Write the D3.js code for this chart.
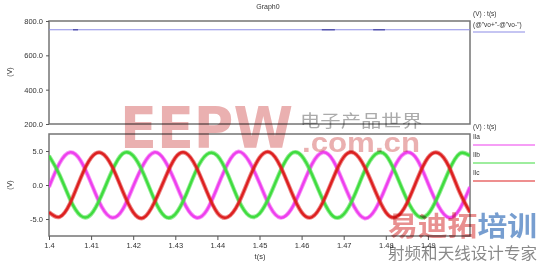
<!DOCTYPE html>
<html>
<head>
<meta charset="utf-8">
<script src="https://cdn.jsdelivr.net/npm/d3@7"></script>
<style>
  body { margin: 0; background: #fff; }
  svg { display: block; font-family: "Liberation Sans", Arial, sans-serif; }
</style>
</head>
<body>
<svg id="chart"></svg>
<script>
var width = 540,
    height = 264;

// sample times (s) read along the x axis
var times = [1.4000, 1.4025, 1.4050, 1.4075, 1.4100, 1.4125, 1.4150, 1.4175,
             1.4200, 1.4225, 1.4250, 1.4275, 1.4300, 1.4325, 1.4350, 1.4375,
             1.4400, 1.4425, 1.4450, 1.4475, 1.4500, 1.4525, 1.4550, 1.4575,
             1.4600, 1.4625, 1.4650, 1.4675, 1.4700, 1.4725, 1.4750, 1.4775,
             1.4800, 1.4825, 1.4850, 1.4875, 1.4900, 1.4925, 1.4950, 1.4975, 1.5000];

// phase currents (V)
var ila = [-0.3, 3.2, 4.8, 3.6, 0.3, -3.2, -4.8, -3.6,
           -0.2, 3.1, 4.8, 3.6, 0.4, -3.1, -4.8, -3.7,
           -0.3, 3.2, 4.9, 3.5, 0.3, -3.2, -4.8, -3.6,
           -0.4, 3.1, 4.8, 3.6, 0.2, -3.2, -4.9, -3.6,
           -0.3, 3.2, 4.8, 3.7, 0.3, -3.1, -4.8, -3.6, -0.3];
var ilb = [4.3, 1.5, -2.1, -4.5, -4.3, -1.5, 2.1, 4.6,
           4.3, 1.6, -2.1, -4.6, -4.3, -1.5, 2.2, 4.5,
           4.3, 1.5, -2.2, -4.5, -4.2, -1.5, 2.1, 4.6,
           4.3, 1.5, -2.1, -4.6, -4.3, -1.6, 2.1, 4.5,
           4.4, 1.5, -2.1, -4.5, -4.3, -1.5, 2.1, 4.6, 4.3];
var ilc = [-4.0, -4.7, -2.7, 1.0, 4.0, 4.7, 2.7, -0.9,
           -4.0, -4.8, -2.6, 0.9, 4.0, 4.7, 2.6, -1.0,
           -4.1, -4.7, -2.7, 0.9, 4.0, 4.8, 2.7, -0.9,
           -4.0, -4.7, -2.6, 1.0, 4.1, 4.7, 2.6, -0.9,
           -4.0, -4.7, -2.7, 0.9, 4.0, 4.7, 2.7, -1.0, -4.0];

// DC link voltage (upper graph)
var voTimes = [1.4, 1.45, 1.5];
var voValues = [749, 749, 749];
var voRipple = [[1.4057, 1.4069], [1.4648, 1.4679], [1.4770, 1.4798]];

var xTicks = [1.4, 1.41, 1.42, 1.43, 1.44, 1.45, 1.46, 1.47, 1.48, 1.49];
var topTicks = [200, 400, 600, 800];
var bottomTicks = [-5, 0, 5];

var seriesNames = ["Ila", "Ilb", "Ilc"];
var seriesColors = ["#ee3fee", "#3fdc3f", "#dd2020"];

var svg = d3.select("#chart")
    .attr("width", width)
    .attr("height", height);

var x = d3.scaleLinear().domain([1.4, 1.5]).range([49, 470]);
var yTop = d3.scaleLinear().domain([200, 800]).range([124, 21]);
var yBot = d3.scaleLinear().domain([-7.5, 7.5]).range([236, 134]);

svg.append("defs").append("clipPath").attr("id", "clipBot")
  .append("rect").attr("x", 49).attr("y", 134).attr("width", 421).attr("height", 102);

// title
svg.append("text").attr("x", 268).attr("y", 9)
  .attr("text-anchor", "middle").style("font-size", "7px").attr("fill", "#333")
  .text("Graph0");

// frames
[[yTop], [yBot]].forEach(function(p) {
  var r = p[0].range();
  svg.append("rect")
    .attr("x", 49).attr("y", r[1])
    .attr("width", 421).attr("height", r[0] - r[1])
    .attr("fill", "none").attr("stroke", "#747474").attr("stroke-width", 1.5);
});

// y axes
function styleAxis(g) {
  g.select(".domain").remove();
  g.selectAll("line").attr("stroke", "#555");
  g.selectAll("text").style("font-size", "7.5px").attr("fill", "#333")
    .style("font-family", "'Liberation Sans', Arial, sans-serif");
}
svg.append("g").attr("transform", "translate(49,0)")
  .call(d3.axisLeft(yTop).tickValues(topTicks).tickSize(3).tickPadding(3)
    .tickFormat(function(d) { return d.toFixed(1); }))
  .call(styleAxis);
svg.append("g").attr("transform", "translate(49,0)")
  .call(d3.axisLeft(yBot).tickValues(bottomTicks).tickSize(3).tickPadding(3)
    .tickFormat(function(d) { return d.toFixed(1); }))
  .call(styleAxis);
svg.append("g").attr("transform", "translate(0,236)")
  .call(d3.axisBottom(x).tickValues(xTicks).tickSize(4).tickPadding(3)
    .tickFormat(function(d) { return String(+d.toFixed(2)); }))
  .call(styleAxis);

// axis titles
[[72], [185]].forEach(function(p) {
  svg.append("text")
    .attr("transform", "translate(12," + p[0] + ") rotate(-90)")
    .attr("text-anchor", "middle").style("font-size", "7px").attr("fill", "#333")
    .text("(V)");
});
svg.append("text").attr("x", 260).attr("y", 259)
  .attr("text-anchor", "middle").style("font-size", "7.5px").attr("fill", "#333")
  .text("t(s)");

// upper trace
var voLine = d3.line().x(function(d) { return x(d[0]); }).y(function(d) { return yTop(d[1]); });
svg.append("path")
  .attr("d", voLine(d3.zip(voTimes, voValues)))
  .attr("fill", "none").attr("stroke", "#8c8ce6").attr("stroke-width", 1.2);
svg.selectAll(".ripple")
  .data(voRipple)
  .join("line")
  .attr("x1", function(d) { return x(d[0]); })
  .attr("x2", function(d) { return x(d[1]); })
  .attr("y1", yTop(749)).attr("y2", yTop(749))
  .attr("stroke", "#4a4aa6").attr("stroke-width", 1.3);

// lower traces
var wave = d3.line()
  .x(function(d) { return x(d[0]); })
  .y(function(d) { return yBot(d[1]); })
  .curve(d3.curveNatural);
var series = [ila, ilb, ilc];
var gw = svg.append("g").attr("clip-path", "url(#clipBot)");
series.forEach(function(vals, i) {
  var pts = d3.zip(times, vals);
  gw.append("path").attr("d", wave(pts))
    .attr("fill", "none").attr("stroke", seriesColors[i])
    .attr("stroke-width", 4.2).attr("stroke-opacity", 0.55);
  gw.append("path").attr("d", wave(pts))
    .attr("fill", "none").attr("stroke", seriesColors[i])
    .attr("stroke-width", 2.4);
});

// legends
var lg = svg.append("g").style("font-size", "6.5px").attr("fill", "#333");
lg.append("text").attr("x", 473).attr("y", 16).text("(V) : t(s)");
lg.append("text").attr("x", 473).attr("y", 27).text("(@\"vo+\"-@\"vo-\")");
lg.append("line").attr("x1", 473).attr("x2", 525).attr("y1", 32).attr("y2", 32)
  .attr("stroke", "#8c8ce6").attr("stroke-width", 1.2);
lg.append("text").attr("x", 473).attr("y", 129).text("(V) : t(s)");
seriesNames.forEach(function(n, i) {
  lg.append("text").attr("x", 473).attr("y", 139 + i * 18).text(n);
  lg.append("line").attr("x1", 473).attr("x2", 535)
    .attr("y1", 145 + i * 18).attr("y2", 145 + i * 18)
    .attr("stroke", seriesColors[i]).attr("stroke-width", 1.2);
});

// watermark overlay
var wm = svg.append("g").style("mix-blend-mode", "multiply");
wm.append("text").attr("x", 120).attr("y", 148)
  .attr("textLength", 173).attr("lengthAdjust", "spacingAndGlyphs")
  .style("font-size", "57px").style("font-weight", "bold")
  .style("font-family", "'DejaVu Sans', sans-serif")
  .attr("fill", "#e6a2a2").attr("fill-opacity", 0.85)
  .text("EEPW");
wm.append("text").attr("x", 300).attr("y", 127)
  .attr("textLength", 122).attr("lengthAdjust", "spacingAndGlyphs")
  .style("font-size", "17px").style("font-family", "'Noto Sans CJK SC', sans-serif")
  .attr("fill", "#ababab")
  .text("电子产品世界");
wm.append("text").attr("x", 302).attr("y", 152)
  .attr("textLength", 118).attr("lengthAdjust", "spacingAndGlyphs")
  .style("font-size", "27px").style("font-weight", "bold")
  .attr("fill", "#e6a2a2").attr("fill-opacity", 0.85)
  .text(".com.cn");
var t1 = wm.append("text").attr("x", 388).attr("y", 236)
  .attr("textLength", 149).attr("lengthAdjust", "spacingAndGlyphs")
  .style("font-size", "27px").style("font-weight", "bold")
  .style("font-family", "'Noto Sans CJK SC', sans-serif");
t1.append("tspan").attr("fill", "#e89090").text("易迪拓");
t1.append("tspan").attr("fill", "#779ed0").text("培训");
wm.append("text").attr("x", 388).attr("y", 259)
  .attr("textLength", 149).attr("lengthAdjust", "spacingAndGlyphs")
  .style("font-size", "16px")
  .style("font-family", "'Noto Sans CJK SC', sans-serif")
  .attr("fill", "#8a8a8a")
  .text("射频和天线设计专家");
</script>
</body>
</html>
